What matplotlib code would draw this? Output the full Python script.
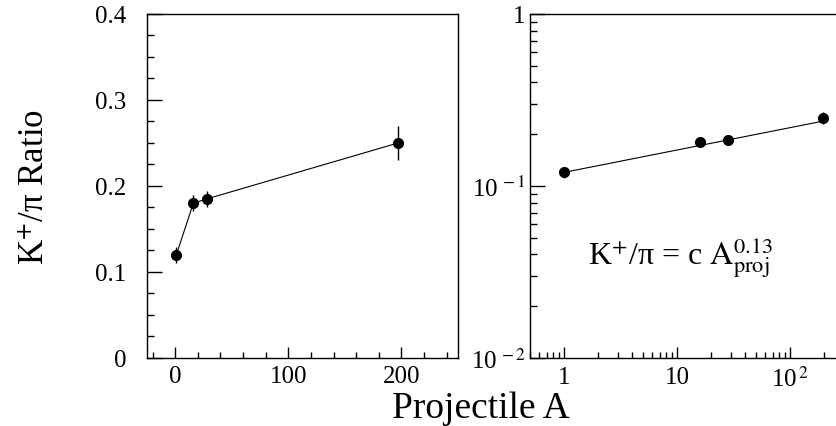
import numpy as np
import matplotlib.pyplot as plt
from matplotlib.ticker import MultipleLocator, LogLocator, NullFormatter

plt.rcParams['font.family'] = ['Liberation Serif', 'DejaVu Serif']
plt.rcParams['mathtext.fontset'] = 'stix'

# datos
proj_a = [1, 16, 28, 197]
ratio = [0.12, 0.18, 0.185, 0.25]
ratio_err = [0.009, 0.009, 0.009, 0.02]

# ajuste K+/pi = c A^0.13
fit_c = 0.12
fit_exp = 0.13

fig = plt.figure(figsize=(8.36, 4.27), dpi=100)
ax1 = fig.add_axes([0.1758, 0.1593, 0.372, 0.8056])
ax2 = fig.add_axes([0.634, 0.1593, 0.3756, 0.8056])

# panel izquierdo, escala lineal
ax1.plot(proj_a, ratio, color='black', lw=0.8)
ax1.errorbar(proj_a, ratio, yerr=ratio_err, fmt='o', color='black', ms=7,
             elinewidth=1, capsize=0)
ax1.set_xlim(-25, 250)
ax1.set_ylim(0, 0.4)
ax1.xaxis.set_major_locator(MultipleLocator(100))
ax1.xaxis.set_minor_locator(MultipleLocator(20))
ax1.yaxis.set_major_locator(MultipleLocator(0.1))
ax1.yaxis.set_minor_locator(MultipleLocator(0.025))
ax1.set_yticks([0, 0.1, 0.2, 0.3, 0.4], ['0', '0.1', '0.2', '0.3', '0.4'])
ax1.tick_params(axis='x', which='major', direction='in', length=8, width=1,
                labelsize=18, pad=5)
ax1.tick_params(axis='x', which='minor', direction='in', length=4, width=1)
ax1.tick_params(axis='y', which='major', direction='in', length=11, width=1,
                labelsize=18, pad=15)
ax1.tick_params(axis='y', which='minor', direction='in', length=5, width=1)

# panel derecho, escala log-log
fit_x = np.geomspace(proj_a[0], proj_a[-1], 50)
ax2.plot(fit_x, fit_c * fit_x ** fit_exp, color='black', lw=0.8)
ax2.errorbar(proj_a, ratio, yerr=ratio_err, fmt='o', color='black', ms=7,
             elinewidth=1, capsize=0)
ax2.set_xscale('log')
ax2.set_yscale('log')
ax2.set_xlim(0.5, 300)
ax2.set_ylim(0.01, 1)
ax2.set_xticks([1, 10, 100], ['1', '10', r'10$^{\,2}$'])
ax2.set_yticks([0.01, 0.1, 1], [r'10$^{\,-2}$', r'10$^{\,-1}$', '1'])
ax2.xaxis.set_minor_locator(LogLocator(base=10, subs=np.arange(2, 10)))
ax2.yaxis.set_minor_locator(LogLocator(base=10, subs=np.arange(2, 10)))
ax2.xaxis.set_minor_formatter(NullFormatter())
ax2.yaxis.set_minor_formatter(NullFormatter())
ax2.tick_params(axis='x', which='major', direction='in', length=8, width=1,
                labelsize=18, pad=6)
ax2.tick_params(axis='x', which='minor', direction='in', length=4, width=1)
ax2.tick_params(axis='y', which='major', direction='in', length=11, width=1,
                labelsize=18, pad=3)
ax2.tick_params(axis='y', which='minor', direction='in', length=5, width=1)

ax2.text(0.185, 0.273, r'K$^{+}$/π = c $\mathrm{A}^{0.13}_{\mathrm{proj}}$',
         transform=ax2.transAxes, fontsize=23, va='baseline', ha='left')

for ax in (ax1, ax2):
    for sp in ax.spines.values():
        sp.set_linewidth(1)

fig.text(0.042, 1 - 187 / 427, r'K$^{+}$/π Ratio', rotation=90,
         fontsize=25, ha='center', va='center')
fig.text(0.575, 0.022, 'Projectile A', fontsize=27, ha='center', va='baseline')

fig.savefig('out.png', dpi=100)
